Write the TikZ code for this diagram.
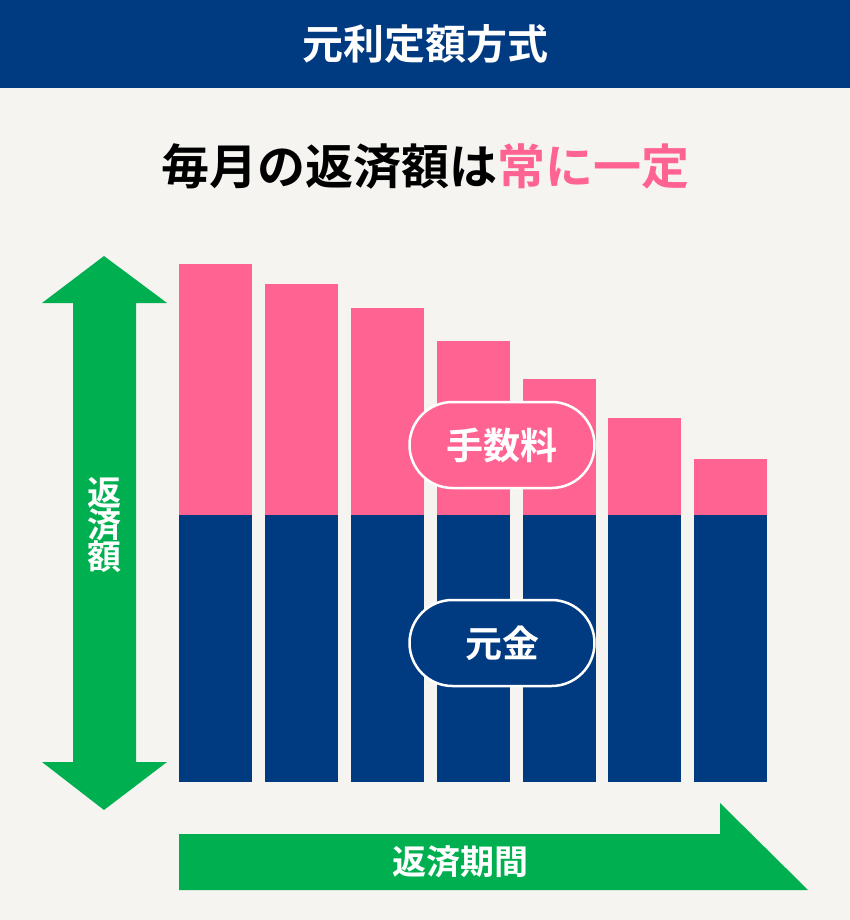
\documentclass[tikz,border=0pt]{standalone}
\usepackage{fontspec}
\setmainfont{Noto Sans CJK JP}[BoldFont={* Bold}]
\definecolor{navy}{HTML}{003A80}
\definecolor{rose}{HTML}{FF6392}
\definecolor{grn}{HTML}{00B050}
\definecolor{paper}{HTML}{F5F4F1}
\newcommand{\DrawBar}[2]{
    \fill[rose] (#1,#2) rectangle ++(73,515-#2);
    \fill[navy] (#1,515) rectangle ++(73,267);
}
\begin{document}
\begin{tikzpicture}[x=1pt,y=-1pt,
  title/.style={font=\bfseries\fontsize{41}{46}\selectfont, text=white},
  pill/.style={draw=white, line width=2.5pt, rounded corners=43pt, minimum width=185pt, minimum height=86pt, text=white, font=\bfseries\fontsize{37}{42}\selectfont},
  arrowtext/.style={text=white, font=\bfseries\fontsize{34}{38}\selectfont}
  ]
  \fill[paper] (0,0) rectangle (850,920);
  \useasboundingbox (0,0) rectangle (850,920);
  \fill[navy] (0,0) rectangle (850,88);
  \node[title] (head) at (425,44) {元利定額方式};
  \node[font=\bfseries\fontsize{48}{52}\selectfont] (sub) at (425,166) {毎月の返済額は\textcolor{rose}{常に一定}};
  % bars
  \DrawBar{179}{264}
  \DrawBar{265}{284}
  \DrawBar{351}{308}
  \DrawBar{437}{341}
  \DrawBar{523}{379}
  \DrawBar{608}{418}
  \DrawBar{694}{459}
  \node[pill, fill=rose] (fee) at (502,445) {手数料};
  \node[pill, fill=navy] (principal) at (502,643) {元金};
  % vertical arrow
  \fill[grn] (104,256) -- (167,303) -- (136,303) -- (136,762) -- (167,762)
    -- (104,810) -- (42,762) -- (73,762) -- (73,303) -- (42,303) -- cycle;
  \node[arrowtext, align=center, inner sep=0pt] (amount) at (104,525) {返\\[-6pt]済\\[-6pt]額};
  % horizontal arrow
  \fill[grn] (179,834) -- (720,834) -- (720,803) -- (808,890) -- (179,890) -- cycle;
  \node[arrowtext] (period) at (460,862) {返済期間};
\end{tikzpicture}
\end{document}
